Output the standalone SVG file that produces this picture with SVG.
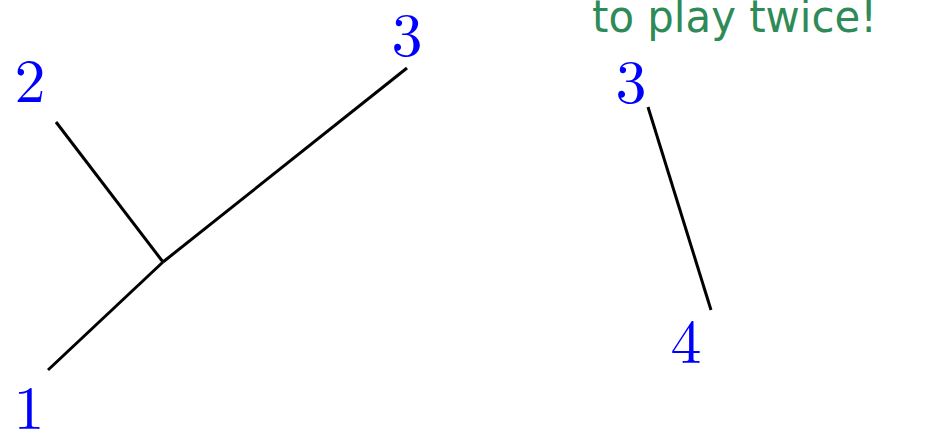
<svg xmlns="http://www.w3.org/2000/svg" width="946" height="433" viewBox="0 0 946 433">
<style>
.lbl{font-family:"Latin Modern Roman","Liberation Serif",serif;font-size:62px;fill:#0000ff;text-anchor:middle}
.edge{stroke:#000;stroke-width:3;fill:none;stroke-linecap:butt}
.note{font-family:"DejaVu Sans","Liberation Sans",sans-serif;font-size:45px;fill:#2e8b57}
</style>
<rect width="946" height="433" fill="#fff"/>
<g id="connectors">
<line class="edge" x1="48" y1="370" x2="163" y2="262"/>
<line class="edge" x1="56" y1="122" x2="163" y2="262"/>
<line class="edge" x1="163" y1="262" x2="407" y2="68"/>
<line class="edge" x1="648" y1="107" x2="711" y2="310"/>
</g>
<g id="n1"><text class="lbl" x="29" y="429">1</text></g>
<g id="n2"><text class="lbl" x="30" y="102">2</text></g>
<g id="n3a"><text class="lbl" x="407" y="56">3</text></g>
<g id="n3b"><text class="lbl" x="631" y="103">3</text></g>
<g id="n4"><text class="lbl" x="686" y="363">4</text></g>
<g id="note"><text class="note" x="592" y="32" textLength="285" lengthAdjust="spacingAndGlyphs">to play twice!</text></g>
</svg>
